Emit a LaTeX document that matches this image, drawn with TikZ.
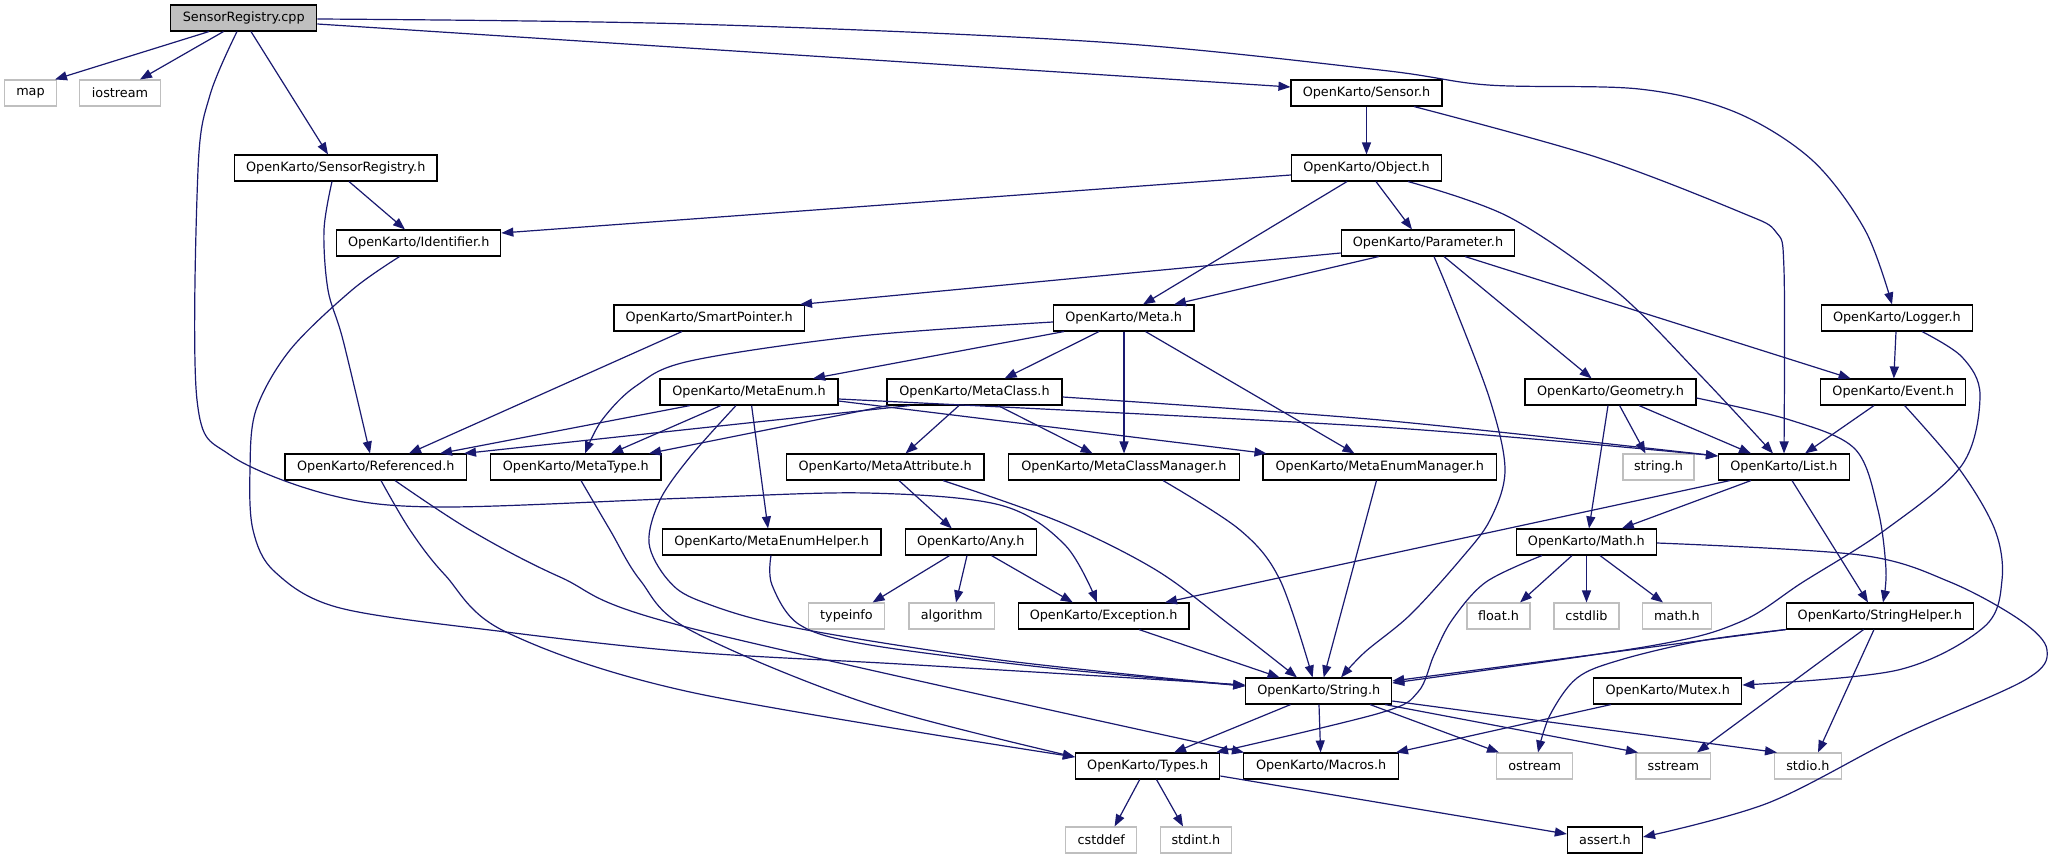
\documentclass[tikz,border=0pt]{standalone}
\usepackage{fontspec}
\setmainfont{DejaVu Sans}
\usetikzlibrary{arrows.meta}
\definecolor{edgecol}{HTML}{191970}
\definecolor{extgray}{HTML}{BFBFBF}
\begin{document}
\begin{tikzpicture}[x=1pt,y=-1pt,
  nb/.style={draw=black,line width=1.1pt,minimum height=26pt,inner sep=0pt,font=\fontsize{12.8}{15}\selectfont,fill=white},
  ext/.style={nb,draw=extgray},
  root/.style={nb,fill=extgray},
  edge/.style={draw=edgecol,line width=1.2pt,-{Triangle[length=12pt,width=9pt]}}]
\fill[white] (0,0) rectangle (2057,859);
\useasboundingbox (0,0) rectangle (2057,859);
% nodes
\node[root,minimum width=146pt] (cpp) at (243.75,18) {SensorRegistry.cpp};
\node[ext,minimum width=51.5pt] (map) at (30.5,93) {map};
\node[ext,minimum width=80.6pt] (iostream) at (120,93) {iostream};
\node[nb,minimum width=151pt] (Sensor) at (1366.5,93) {OpenKarto/Sensor.h};
\node[nb,minimum width=202.5pt] (SRh) at (335.75,168) {OpenKarto/SensorRegistry.h};
\node[nb,minimum width=150pt] (Object) at (1366.5,168) {OpenKarto/Object.h};
\node[nb,minimum width=164.2pt] (Identifier) at (418.7,243) {OpenKarto/Identifier.h};
\node[nb,minimum width=173.4pt] (Parameter) at (1428,243) {OpenKarto/Parameter.h};
\node[nb,minimum width=190.4pt] (SmartPointer) at (709.2,318) {OpenKarto/SmartPointer.h};
\node[nb,minimum width=140.5pt] (Meta) at (1123.7,318) {OpenKarto/Meta.h};
\node[nb,minimum width=151.1pt] (Logger) at (1896.9,318) {OpenKarto/Logger.h};
\node[nb,minimum width=178pt] (MetaEnum) at (749,392) {OpenKarto/MetaEnum.h};
\node[nb,minimum width=175pt] (MetaClass) at (974.5,392) {OpenKarto/MetaClass.h};
\node[nb,minimum width=171pt] (Geometry) at (1610.5,392) {OpenKarto/Geometry.h};
\node[nb,minimum width=144.7pt] (Event) at (1893.2,392) {OpenKarto/Event.h};
\node[nb,minimum width=181.5pt] (Referenced) at (375.75,467) {OpenKarto/Referenced.h};
\node[nb,minimum width=170.4pt] (MetaType) at (575.8,467) {OpenKarto/MetaType.h};
\node[nb,minimum width=197.6pt] (MetaAttribute) at (885.2,467) {OpenKarto/MetaAttribute.h};
\node[nb,minimum width=230.6pt] (MCM) at (1123.9,467) {OpenKarto/MetaClassManager.h};
\node[nb,minimum width=233.6pt] (MEM) at (1379.8,467) {OpenKarto/MetaEnumManager.h};
\node[ext,minimum width=71pt] (stringh) at (1658.5,467) {string.h};
\node[nb,minimum width=130.8pt] (List) at (1783.9,467) {OpenKarto/List.h};
\node[nb,minimum width=218.7pt] (MEH) at (771.65,542) {OpenKarto/MetaEnumHelper.h};
\node[nb,minimum width=131.1pt] (Any) at (970.75,542) {OpenKarto/Any.h};
\node[nb,minimum width=139.9pt] (Math) at (1586.35,542) {OpenKarto/Math.h};
\node[ext,minimum width=76.1pt] (typeinfo) at (846.45,616) {typeinfo};
\node[ext,minimum width=85.5pt] (algorithm) at (951.75,616) {algorithm};
\node[nb,minimum width=170.7pt] (Exception) at (1103.65,616) {OpenKarto/Exception.h};
\node[ext,minimum width=63pt] (floath) at (1498.5,616) {float.h};
\node[ext,minimum width=65pt] (cstdlib) at (1586.5,616) {cstdlib};
\node[ext,minimum width=68.2pt] (mathh) at (1677,616) {math.h};
\node[nb,minimum width=187pt] (SH) at (1879.8,616) {OpenKarto/StringHelper.h};
\node[nb,minimum width=145.9pt] (String) at (1318.75,691) {OpenKarto/String.h};
\node[nb,minimum width=148.1pt] (Mutex) at (1667.75,691) {OpenKarto/Mutex.h};
\node[nb,minimum width=144.3pt] (Types) at (1147.65,766) {OpenKarto/Types.h};
\node[nb,minimum width=155pt] (Macros) at (1321.1,766) {OpenKarto/Macros.h};
\node[ext,minimum width=76pt] (ostream) at (1534.6,766) {ostream};
\node[ext,minimum width=74.7pt] (sstream) at (1673.35,766) {sstream};
\node[ext,minimum width=66.5pt] (stdio) at (1807.85,766) {stdio.h};
\node[ext,minimum width=70.9pt] (cstddef) at (1101.25,840) {cstddef};
\node[ext,minimum width=70.9pt] (stdint) at (1195.85,840) {stdint.h};
\node[nb,minimum width=75.1pt] (assert) at (1604.95,840) {assert.h};
% edges from SensorRegistry.cpp
\draw[edge] (209,0 |- cpp.south) -- (55,0 |- map.north);
\draw[edge] (223.5,0 |- cpp.south) -- (140,0 |- iostream.north);
\draw[edge] plot[smooth,tension=0.55] coordinates {(237,0 |- cpp.south) (210,95) (198,170) (197,400) (230,455) (330,495) (440,507) (690,498) (866,493) (1000,505) (1065,545) (1097,0 |- Exception.north)};
\draw[edge] (251,0 |- cpp.south) -- (328,0 |- SRh.north);
\draw[edge] (cpp.east |- 0,24) -- (Sensor.west |- 0,87);
\draw[edge] plot[smooth,tension=0.55] coordinates {(cpp.east |- 0,19) (690,24) (1100,42) (1380,70) (1488,85) (1639,89) (1735,112) (1812,160) (1865,230) (1892,0 |- Logger.north)};
% SensorRegistry.h
\draw[edge] (349,0 |- SRh.south) -- (405,0 |- Identifier.north);
\draw[edge] plot[smooth,tension=0.55] coordinates {(332,0 |- SRh.south) (324,230) (328,290) (343,340) (370,0 |- Referenced.north)};
% Identifier.h
\draw[edge] plot[smooth,tension=0.55] coordinates {(399.6,0 |- Identifier.south) (352,290) (290,350) (256,410) (250,470) (253,530) (275,572) (340,608) (506,632) (690,652) (900,664) (1100,676) (String.west |- 0,685)};
% Sensor.h
\draw[edge] (1366.5,0 |- Sensor.south) -- (1366.5,0 |- Object.north);
\draw[edge] plot[smooth,tension=0.55] coordinates {(1414,0 |- Sensor.south) (1596,157) (1740,212) (1776,232) (1784,270) (1784,0 |- List.north)};
% Object.h
\draw[edge] (Object.west |- 0,175) -- (Identifier.east |- 0,233);
\draw[edge] (1347,0 |- Object.south) -- (1143,0 |- Meta.north);
\draw[edge] (1376,0 |- Object.south) -- (1412,0 |- Parameter.north);
\draw[edge] plot[smooth,tension=0.55] coordinates {(1408,0 |- Object.south) (1509,217) (1615,290) (1700,375) (1773,0 |- List.north)};
% Parameter.h
\draw[edge] (Parameter.west |- 0,253) -- (800,0 |- SmartPointer.north);
\draw[edge] (1378.7,0 |- Parameter.south) -- (1174,0 |- Meta.north);
\draw[edge] plot[smooth,tension=0.55] coordinates {(1434,0 |- Parameter.south) (1452,300) (1490,400) (1505,470) (1490,520) (1460,560) (1410,615) (1365,652) (1341,0 |- String.north)};
\draw[edge] (1444,0 |- Parameter.south) -- (1591.6,0 |- Geometry.north);
\draw[edge] (1465,0 |- Parameter.south) -- (1850.6,0 |- Event.north);
% SmartPointer.h
\draw[edge] (682,0 |- SmartPointer.south) -- (409,0 |- Referenced.north);
% Meta.h
\draw[edge] plot[smooth,tension=0.55] coordinates {(Meta.west |- 0,322) (860,336) (690,361) (636,386) (602,420) (585,0 |- MetaType.north)};
\draw[edge] (1064,0 |- Meta.south) -- (813,0 |- MetaEnum.north);
\draw[edge] (1099,0 |- Meta.south) -- (1004.6,0 |- MetaClass.north);
\draw[edge] (1124,0 |- Meta.south) -- (1124,0 |- MCM.north);
\draw[edge] (1145.5,0 |- Meta.south) -- (1354.5,0 |- MEM.north);
% MetaEnum.h
\draw[edge] (690,0 |- MetaEnum.south) -- (440,0 |- Referenced.north);
\draw[edge] (720.8,0 |- MetaEnum.south) -- (611,0 |- MetaType.north);
\draw[edge] plot[smooth,tension=0.55] coordinates {(736,0 |- MetaEnum.south) (690,457) (660,500) (649,543) (668,580) (700,601) (791,627) (1000,660) (String.west |- 0,686)};
\draw[edge] (751.6,0 |- MetaEnum.south) -- (768,0 |- MEH.north);
\draw[edge] (MetaEnum.east |- 0,401) -- (1266.5,0 |- MEM.north);
\draw[edge] plot[smooth,tension=0.5] coordinates {(MetaEnum.east |- 0,399) (1380,427) (List.west |- 0,456)};
% MetaClass.h
\draw[edge] (910,0 |- MetaClass.south) -- (464,0 |- Referenced.north);
\draw[edge] (888,0 |- MetaClass.south) -- (649,0 |- MetaType.north);
\draw[edge] (959,0 |- MetaClass.south) -- (905.6,0 |- MetaAttribute.north);
\draw[edge] (998,0 |- MetaClass.south) -- (1092.6,0 |- MCM.north);
\draw[edge] plot[smooth,tension=0.5] coordinates {(MetaClass.east |- 0,397) (1380,420) (List.west |- 0,456)};
% Referenced.h
\draw[edge] plot[smooth,tension=0.55] coordinates {(381,0 |- Referenced.south) (410,530) (445,575) (506,632) (690,692) (Types.west |- 0,757)};
\draw[edge] plot[smooth,tension=0.55] coordinates {(395,0 |- Referenced.south) (470,530) (560,577) (690,628) (1244,0 |- Macros.north)};
% MetaType.h
\draw[edge] plot[smooth,tension=0.55] coordinates {(581,0 |- MetaType.south) (610,530) (640,580) (690,630) (866,703) (Types.west |- 0,757)};
% MetaEnumHelper.h
\draw[edge] plot[smooth,tension=0.55] coordinates {(771,0 |- MEH.south) (772,585) (800,625) (870,645) (1050,668) (String.west |- 0,686)};
% MetaAttribute.h
\draw[edge] (899,0 |- MetaAttribute.south) -- (951.8,0 |- Any.north);
\draw[edge] plot[smooth,tension=0.55] coordinates {(943,0 |- MetaAttribute.south) (1060,522) (1156,570) (1230,625) (1297,0 |- String.north)};
% MetaClassManager.h / MetaEnumManager.h
\draw[edge] plot[smooth,tension=0.55] coordinates {(1163,0 |- MCM.south) (1240,530) (1280,580) (1312.6,0 |- String.north)};
\draw[edge] (1376.5,0 |- MEM.south) -- (1323.7,0 |- String.north);
% Any.h
\draw[edge] (949.6,0 |- Any.south) -- (872.6,0 |- typeinfo.north);
\draw[edge] (967,0 |- Any.south) -- (956,0 |- algorithm.north);
\draw[edge] (991.5,0 |- Any.south) -- (1072.8,0 |- Exception.north);
% Exception.h
\draw[edge] (1139,0 |- Exception.south) -- (1279.6,0 |- String.north);
% List.h
\draw[edge] (1730,0 |- List.south) -- (1165,0 |- Exception.north);
\draw[edge] (1751,0 |- List.south) -- (1621.8,0 |- Math.north);
\draw[edge] (1792,0 |- List.south) -- (1868,0 |- SH.north);
% Geometry.h
\draw[edge] (1619.6,0 |- Geometry.south) -- (1645.5,0 |- stringh.north);
\draw[edge] (1639,0 |- Geometry.south) -- (1751,0 |- List.north);
\draw[edge] (1608,0 |- Geometry.south) -- (1589,0 |- Math.north);
\draw[edge] plot[smooth,tension=0.55] coordinates {(Geometry.east |- 0,398) (1790,420) (1855,449) (1878,510) (1886,570) (1883,0 |- SH.north)};
% Event.h
\draw[edge] (1874,0 |- Event.south) -- (1805,0 |- List.north);
\draw[edge] plot[smooth,tension=0.55] coordinates {(1904.6,0 |- Event.south) (1960,470) (1995,530) (2002,580) (1984,627) (1898,670) (Mutex.east |- 0,685)};
% Logger.h
\draw[edge] (1896,0 |- Logger.south) -- (1893.8,0 |- Event.north);
\draw[edge] plot[smooth,tension=0.55] coordinates {(1922,0 |- Logger.south) (1962,357) (1980,395) (1962,465) (1885,530) (1803,582) (1740,622) (1650,646) (String.east |- 0,683)};
% Math.h
\draw[edge] (1572,0 |- Math.south) -- (1520,0 |- floath.north);
\draw[edge] (1586.5,0 |- Math.south) -- (1586.5,0 |- cstdlib.north);
\draw[edge] (1600,0 |- Math.south) -- (1663,0 |- mathh.north);
\draw[edge] plot[smooth,tension=0.55] coordinates {(1542,0 |- Math.south) (1486,582) (1452,620) (1434,655) (1418,692) (1380,713) (1216,0 |- Types.north)};
\draw[edge] plot[smooth,tension=0.55] coordinates {(Math.east |- 0,543) (1860,555) (1950,582) (2020,620) (2047,650) (2025,680) (1898,737) (1768,803) (assert.east |- 0,837)};
% StringHelper.h
\draw[edge] (SH.south west) -- (String.east |- 0,681);
\draw[edge] plot[smooth,tension=0.55] coordinates {(SH.south west) (1700,641) (1620,660) (1577,678) (1550,715) (1538,0 |- ostream.north)};
\draw[edge] (1863.6,0 |- SH.south) -- (1697,0 |- sstream.north);
\draw[edge] (1874,0 |- SH.south) -- (1818,0 |- stdio.north);
% String.h
\draw[edge] (1290.6,0 |- String.south) -- (1174,0 |- Types.north);
\draw[edge] (1319,0 |- String.south) -- (1320.6,0 |- Macros.north);
\draw[edge] (1370,0 |- String.south) -- (1499,0 |- ostream.north);
\draw[edge] (1385,0 |- String.south) -- (1638,0 |- sstream.north);
\draw[edge] (String.east |- 0,701) -- (1777,0 |- stdio.north);
% Mutex.h
\draw[edge] (1611,0 |- Mutex.south) -- (1396,0 |- Macros.north);
% Types.h
\draw[edge] (1139.7,0 |- Types.south) -- (1114.6,0 |- cstddef.north);
\draw[edge] (1156.5,0 |- Types.south) -- (1183,0 |- stdint.north);
\draw[edge] (Types.east |- 0,776) -- (assert.west |- 0,834);
\end{tikzpicture}
\end{document}
